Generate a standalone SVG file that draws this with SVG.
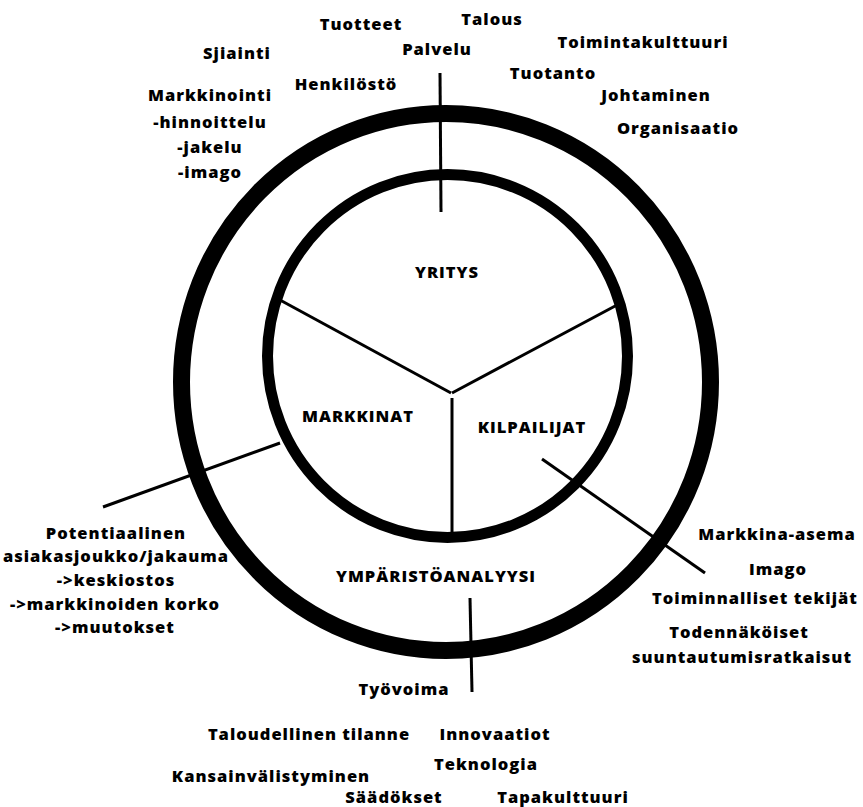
<svg xmlns="http://www.w3.org/2000/svg" width="863" height="807" viewBox="0 0 863 807">
<style>
text{font-family:"Open Sans","Noto Sans","Liberation Sans",sans-serif;font-weight:800;font-size:16.5px;letter-spacing:1px;fill:#000}
.c{text-anchor:middle}
.ln{stroke:#000;stroke-width:3;fill:none;stroke-linecap:butt}
</style>
<rect width="863" height="807" fill="#fff"/>
<g id="rings">
<ellipse id="outer-ring" cx="446" cy="382" rx="264.5" ry="268.5" fill="none" stroke="#000" stroke-width="17"/>
<ellipse id="inner-circle" cx="447.5" cy="356" rx="180" ry="181.5" fill="none" stroke="#000" stroke-width="11"/>
</g>
<g id="connectors">
<line class="ln" x1="440" y1="73" x2="441" y2="212"/>
<line class="ln" x1="280" y1="300" x2="451" y2="393"/>
<line class="ln" x1="617" y1="305" x2="452" y2="393"/>
<line class="ln" x1="452" y1="398" x2="452" y2="535"/>
<line class="ln" x1="103" y1="507" x2="280" y2="443"/>
<line class="ln" x1="542" y1="459" x2="705" y2="573"/>
<line class="ln" x1="470" y1="598" x2="472" y2="692"/>
</g>
<g id="yritys"><text class="c" x="447" y="278">YRITYS</text></g>
<g id="markkinat"><text class="c" x="358" y="422">MARKKINAT</text></g>
<g id="kilpailijat"><text class="c" x="532" y="433">KILPAILIJAT</text></g>
<g id="ymparistoanalyysi"><text class="c" x="436" y="582">YMPÄRISTÖANALYYSI</text></g>
<g id="top-labels">
<text class="c" x="361" y="30">Tuotteet</text>
<text class="c" x="492" y="25">Talous</text>
<text class="c" x="437" y="55">Palvelu</text>
<text class="c" x="237" y="59">Sjiainti</text>
<text class="c" x="643" y="48">Toimintakulttuuri</text>
<text class="c" x="346" y="90">Henkilöstö</text>
<text class="c" x="553" y="79">Tuotanto</text>
<text class="c" x="656" y="101">Johtaminen</text>
<text class="c" x="678" y="134">Organisaatio</text>
<text class="c" x="210" y="101">Markkinointi</text>
<text class="c" x="210" y="128">-hinnoittelu</text>
<text class="c" x="210" y="153">-jakelu</text>
<text class="c" x="210" y="178">-imago</text>
</g>
<g id="left-labels">
<text class="c" x="116" y="539">Potentiaalinen</text>
<text class="c" x="116" y="562">asiakasjoukko/jakauma</text>
<text class="c" x="116" y="586">-&gt;keskiostos</text>
<text class="c" x="115" y="610">-&gt;markkinoiden korko</text>
<text class="c" x="115" y="633">-&gt;muutokset</text>
</g>
<g id="right-labels">
<text class="c" x="777" y="540">Markkina-asema</text>
<text class="c" x="778" y="575">Imago</text>
<text class="c" x="755" y="604">Toiminnalliset tekijät</text>
<text class="c" x="739" y="638">Todennäköiset</text>
<text class="c" x="742" y="663">suuntautumisratkaisut</text>
</g>
<g id="bottom-labels">
<text class="c" x="404" y="695">Työvoima</text>
<text class="c" x="309" y="740">Taloudellinen tilanne</text>
<text class="c" x="495" y="740">Innovaatiot</text>
<text class="c" x="486" y="770">Teknologia</text>
<text class="c" x="271" y="782">Kansainvälistyminen</text>
<text class="c" x="394" y="803">Säädökset</text>
<text class="c" x="563" y="803">Tapakulttuuri</text>
</g>
</svg>
